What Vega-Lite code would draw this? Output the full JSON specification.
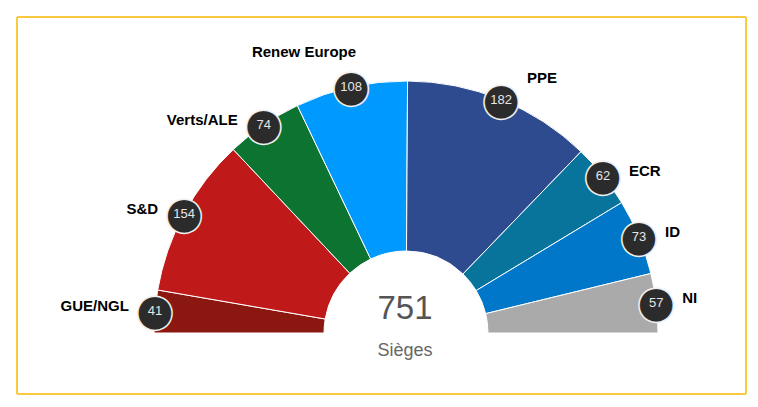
{
  "$schema": "https://vega.github.io/schema/vega-lite/v6.json",
  "width": 729,
  "height": 377,
  "autosize": {"type": "none"},
  "padding": {"left": 17, "top": 17, "right": 12, "bottom": 13},
  "background": "white",
  "config": {"view": {"stroke": null}},
  "data": {
    "values": [
      {"party": "GUE/NGL", "seats": 41, "order": 1},
      {"party": "S&D", "seats": 154, "order": 2},
      {"party": "Verts/ALE", "seats": 74, "order": 3},
      {"party": "Renew Europe", "seats": 108, "order": 4},
      {"party": "PPE", "seats": 182, "order": 5},
      {"party": "ECR", "seats": 62, "order": 6},
      {"party": "ID", "seats": 73, "order": 7},
      {"party": "NI", "seats": 57, "order": 8}
    ]
  },
  "layer": [
    {
      "data": {"values": [{"edge": 0}, {"edge": 1}]},
      "mark": {"type": "rule", "stroke": "#f9c940", "strokeWidth": 2},
      "encoding": {
        "x": {"field": "edge", "type": "quantitative", "scale": {"domain": [0, 1], "nice": false, "zero": false}, "axis": null}
      }
    },
    {
      "data": {"values": [{"edge": 0}, {"edge": 1}]},
      "mark": {"type": "rule", "stroke": "#f9c940", "strokeWidth": 2},
      "encoding": {
        "y": {"field": "edge", "type": "quantitative", "scale": {"domain": [0, 1], "nice": false, "zero": false}, "axis": null}
      }
    },
    {
      "mark": {"type": "arc", "x": 389, "y": 316, "outerRadius": 252, "innerRadius": 82, "stroke": "white", "strokeWidth": 1},
      "encoding": {
        "theta": {"field": "seats", "type": "quantitative", "stack": true, "scale": {"range": [-1.5707963, 1.5707963]}},
        "order": {"field": "order", "type": "quantitative"},
        "color": {
          "field": "party", "type": "nominal", "legend": null,
          "scale": {
            "domain": ["GUE/NGL", "S&D", "Verts/ALE", "Renew Europe", "PPE", "ECR", "ID", "NI"],
            "range": ["#8b1711", "#c01919", "#0c7331", "#0099fe", "#2d4b8e", "#08749c", "#0077c8", "#aaaaaa"]
          }
        }
      }
    },
    {
      "mark": {"type": "text", "x": 389, "y": 316, "radius": 252, "text": "●", "font": "DejaVu Sans", "fontSize": 45, "baseline": "middle", "align": "center", "fill": "#2b2b2b", "stroke": "#f0f0f0", "strokeWidth": 1.5},
      "encoding": {
        "theta": {"field": "seats", "type": "quantitative", "stack": true},
        "order": {"field": "order", "type": "quantitative"}
      }
    },
    {
      "mark": {"type": "text", "x": 389, "y": 316, "radius": 252, "font": "Liberation Sans", "fontSize": 13, "baseline": "middle", "align": "center", "fill": "#e6e6e6"},
      "encoding": {
        "theta": {"field": "seats", "type": "quantitative", "stack": true},
        "order": {"field": "order", "type": "quantitative"},
        "text": {"field": "seats", "type": "quantitative"}
      }
    },
    {
      "mark": {
        "type": "text", "x": 389, "y": 316, "radius": 252, "font": "Liberation Sans", "fontSize": 15, "fontWeight": "bold", "baseline": "middle", "fill": "#000000",
        "align": {"expr": "datum.order <= 4 ? 'right' : 'left'"},
        "dx": {"expr": "datum.party == 'Renew Europe' ? 5 : (datum.order <= 3 ? -26 : 26)"},
        "dy": {"expr": "datum.party == 'Renew Europe' ? -35 : (datum.party == 'PPE' ? -22 : -5)"}
      },
      "encoding": {
        "theta": {"field": "seats", "type": "quantitative", "stack": true},
        "order": {"field": "order", "type": "quantitative"},
        "text": {"field": "party", "type": "nominal"}
      }
    },
    {
      "transform": [{"aggregate": [{"op": "sum", "field": "seats", "as": "total"}]}],
      "mark": {"type": "text", "x": 388, "y": 302, "font": "Liberation Sans", "fontSize": 33, "baseline": "alphabetic", "align": "center", "fill": "#555555"},
      "encoding": {"text": {"field": "total", "type": "quantitative"}}
    },
    {
      "transform": [{"aggregate": [{"op": "sum", "field": "seats", "as": "total"}]}],
      "mark": {"type": "text", "x": 388, "y": 339, "font": "Liberation Sans", "fontSize": 18, "baseline": "alphabetic", "align": "center", "fill": "#666666", "text": "Sièges"},
      "encoding": {}
    }
  ]
}
